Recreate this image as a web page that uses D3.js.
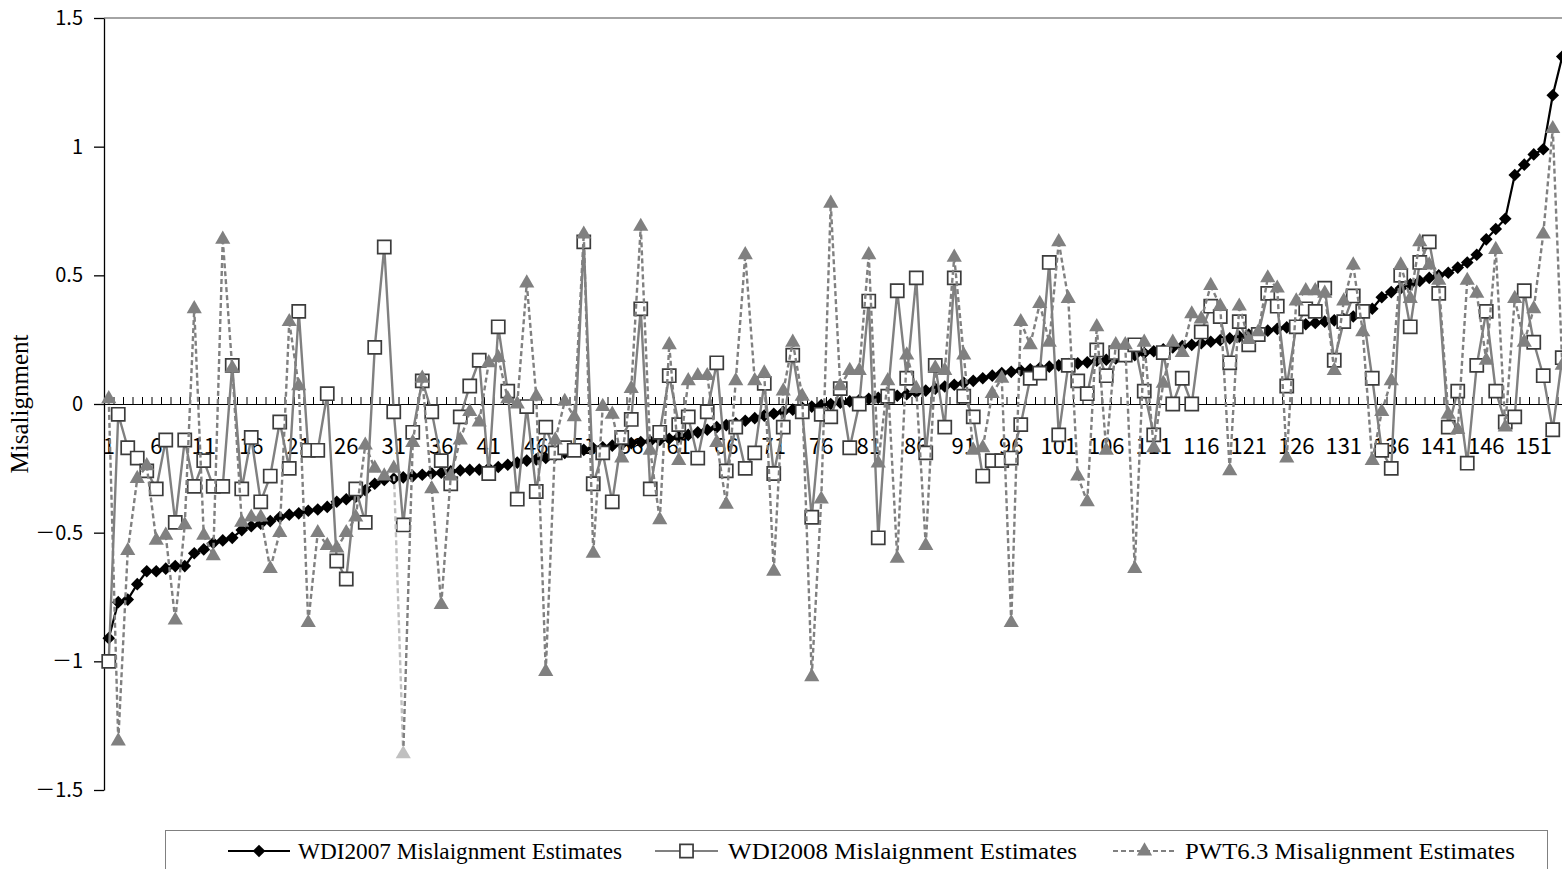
<!DOCTYPE html>
<html>
<head>
<meta charset="utf-8">
<script src="https://cdn.jsdelivr.net/npm/d3@7"></script>
<style>
body { margin: 0; background: #fff; }
svg { display: block; }
</style>
</head>
<body>
<svg id="chart" width="1562" height="869"></svg>
<script>
// categories are the country ranks 1..154 (sorted by the WDI2007 estimate)
var categories = d3.range(1, 155);

var wdi2007 = [
  -0.91,-0.77,-0.76,-0.70,-0.65,-0.65,-0.64,-0.63,-0.63,-0.58,
  -0.565,-0.54,-0.53,-0.52,-0.49,-0.475,-0.465,-0.455,-0.44,-0.43,
  -0.425,-0.415,-0.41,-0.40,-0.38,-0.37,-0.36,-0.335,-0.31,-0.295,
  -0.29,-0.285,-0.28,-0.275,-0.27,-0.267,-0.262,-0.258,-0.256,-0.255,
  -0.25,-0.245,-0.236,-0.228,-0.22,-0.215,-0.21,-0.20,-0.19,-0.18,
  -0.178,-0.172,-0.168,-0.162,-0.156,-0.152,-0.148,-0.145,-0.14,-0.135,
  -0.128,-0.12,-0.11,-0.10,-0.09,-0.082,-0.075,-0.065,-0.055,-0.045,
  -0.038,-0.03,-0.022,-0.015,-0.01,-0.004,0.0,0.005,0.01,0.015,
  0.02,0.024,0.028,0.032,0.038,0.045,0.052,0.06,0.068,0.075,
  0.082,0.09,0.10,0.11,0.12,0.125,0.13,0.135,0.14,0.145,
  0.15,0.155,0.158,0.162,0.168,0.172,0.177,0.182,0.19,0.198,
  0.205,0.212,0.22,0.225,0.23,0.236,0.242,0.248,0.255,0.262,
  0.27,0.278,0.285,0.292,0.298,0.305,0.31,0.315,0.32,0.325,
  0.33,0.34,0.355,0.37,0.415,0.435,0.45,0.465,0.478,0.49,
  0.50,0.51,0.53,0.55,0.58,0.64,0.68,0.72,0.89,0.93,
  0.97,0.99,1.20,1.35
];

var wdi2008 = [
  -1.00,-0.04,-0.17,-0.21,-0.26,-0.33,-0.14,-0.46,-0.14,-0.32,
  -0.22,-0.32,-0.32,0.15,-0.33,-0.13,-0.38,-0.28,-0.07,-0.25,
  0.36,-0.18,-0.18,0.04,-0.61,-0.68,-0.33,-0.46,0.22,0.61,
  -0.03,-0.47,-0.11,0.09,-0.03,-0.22,-0.31,-0.05,0.07,0.17,
  -0.27,0.30,0.05,-0.37,-0.01,-0.34,-0.09,-0.19,-0.17,-0.18,
  0.63,-0.31,-0.19,-0.38,-0.13,-0.06,0.37,-0.33,-0.11,0.11,
  -0.08,-0.05,-0.21,-0.03,0.16,-0.26,-0.09,-0.25,-0.19,0.08,
  -0.27,-0.09,0.19,-0.03,-0.44,-0.04,-0.05,0.06,-0.17,0.00,
  0.40,-0.52,0.03,0.44,0.10,0.49,-0.19,0.15,-0.09,0.49,
  0.03,-0.05,-0.28,-0.22,-0.22,-0.21,-0.08,0.10,0.12,0.55,
  -0.12,0.15,0.09,0.04,0.21,0.11,0.20,0.19,0.23,0.05,
  -0.12,0.20,0.00,0.10,0.00,0.28,0.38,0.34,0.16,0.32,
  0.23,0.27,0.43,0.38,0.07,0.30,0.37,0.36,0.45,0.17,
  0.32,0.42,0.36,0.10,-0.18,-0.25,0.50,0.30,0.55,0.63,
  0.43,-0.09,0.05,-0.23,0.15,0.36,0.05,-0.07,-0.05,0.44,
  0.24,0.11,-0.10,0.18
];

var pwt63 = [
  0.02,-1.31,-0.57,-0.29,-0.24,-0.53,-0.51,-0.84,-0.47,0.37,
  -0.51,-0.59,0.64,0.14,-0.46,-0.44,-0.44,-0.64,-0.50,0.32,
  0.07,-0.85,-0.50,-0.55,-0.56,-0.50,-0.44,-0.16,-0.25,-0.28,
  -0.25,-1.36,-0.15,0.10,-0.33,-0.78,-0.28,-0.14,-0.03,-0.07,
  0.16,0.18,0.02,0.00,0.47,0.03,-1.04,-0.14,0.01,-0.05,
  0.66,-0.58,-0.01,-0.04,-0.21,0.06,0.69,-0.18,-0.45,0.23,
  -0.22,0.09,0.11,0.11,-0.15,-0.39,0.09,0.58,0.09,0.12,
  -0.65,0.05,0.24,0.03,-1.06,-0.37,0.78,0.07,0.13,0.13,
  0.58,-0.23,0.09,-0.60,0.19,0.06,-0.55,0.14,0.13,0.57,
  0.19,-0.18,-0.17,0.04,0.10,-0.85,0.32,0.23,0.39,0.24,
  0.63,0.41,-0.28,-0.38,0.30,-0.18,0.23,0.23,-0.64,0.24,
  -0.17,0.08,0.24,0.20,0.35,0.33,0.46,0.38,-0.26,0.38,
  0.25,0.28,0.49,0.45,-0.21,0.40,0.44,0.44,0.43,0.13,
  0.40,0.54,0.28,-0.22,-0.03,0.09,0.54,0.41,0.63,0.54,
  0.48,-0.04,-0.10,0.48,0.43,0.17,0.60,-0.09,0.41,0.24,
  0.37,0.66,1.07,0.15
];

// the one PWT point drawn in a lighter grey in the original
var highlightIndex = 31;

var yTicks = [-1.5, -1, -0.5, 0, 0.5, 1, 1.5];
var xLabels = [1,6,11,16,21,26,31,36,41,46,51,56,61,66,71,76,81,86,91,96,101,106,111,116,121,126,131,136,141,146,151];
var seriesNames = ["WDI2007 Mislaignment Estimates", "WDI2008 Mislaignment Estimates", "PWT6.3 Misalignment Estimates"];

var svg = d3.select("#chart");

var x = d3.scaleBand().domain(categories).range([104, 1567]).paddingInner(0).paddingOuter(0);
var xb = d3.scaleLinear().domain([0, categories.length]).range([104, 1567]);
var y = d3.scaleLinear().domain([-1.5, 1.5]).range([790, 18]);

function cx(i) { return x(categories[i]) + x.bandwidth() / 2; }

// top border of plot area
svg.append("line")
  .attr("x1", 104).attr("x2", 1567)
  .attr("y1", y(1.5)).attr("y2", y(1.5))
  .attr("stroke", "#868686").attr("stroke-width", 1.5);

// y axis
var yAxis = svg.append("g")
  .attr("transform", "translate(104,0)")
  .call(d3.axisLeft(y).tickValues(yTicks).tickSize(10).tickSizeOuter(0).tickPadding(11)
    .tickFormat(function(d) { return d < 0 ? "\uFF0D" + Math.abs(d) : String(d); }));
yAxis.select(".domain").attr("stroke", "#000").attr("stroke-width", 1.3);
yAxis.selectAll(".tick line").attr("stroke", "#000").attr("stroke-width", 1.3);
yAxis.selectAll("text")
  .attr("font-family", "'Noto Sans CJK JP', 'Liberation Sans', sans-serif")
  .attr("font-size", 20).attr("fill", "#000");

// x axis: tick marks at category boundaries on the zero line
var xTicks = svg.append("g")
  .attr("transform", "translate(0," + y(0) + ")")
  .call(d3.axisTop(xb).tickValues(d3.range(0, categories.length + 1)).tickSize(7).tickSizeOuter(0).tickFormat(""));
xTicks.select(".domain").attr("stroke", "#000").attr("stroke-width", 1.2);
xTicks.selectAll(".tick line").attr("stroke", "#000").attr("stroke-width", 1);

// x labels every 5th category
var xAxis = svg.append("g")
  .attr("transform", "translate(0," + y(0) + ")")
  .call(d3.axisBottom(x).tickValues(xLabels).tickSize(0).tickPadding(34));
xAxis.select(".domain").remove();
xAxis.selectAll("text")
  .attr("font-family", "'Noto Sans CJK JP', 'Liberation Sans', sans-serif")
  .attr("font-size", 22).attr("fill", "#000");

// y axis title
svg.append("text")
  .attr("transform", "translate(28," + y(0) + ") rotate(-90)")
  .attr("text-anchor", "middle")
  .attr("font-family", "'Liberation Serif', 'Times New Roman', serif")
  .attr("font-size", 25)
  .text("Misalignment");

var line = d3.line().x(function(d, i) { return cx(i); }).y(function(d) { return y(d); });

var diamond = d3.symbol().type(d3.symbolSquare).size(80);
var square = d3.symbol().type(d3.symbolSquare).size(172);
var triangle = d3.symbol().type(d3.symbolTriangle).size(100);

// WDI2007 - black line with diamonds
svg.append("path").datum(wdi2007)
  .attr("d", line).attr("fill", "none").attr("stroke", "#000").attr("stroke-width", 2.2);
svg.append("g").selectAll("path").data(wdi2007).enter().append("path")
  .attr("d", diamond)
  .attr("transform", function(d, i) { return "translate(" + cx(i) + "," + y(d) + ") rotate(45)"; })
  .attr("fill", "#000");

// WDI2008 - grey line with open squares
svg.append("path").datum(wdi2008)
  .attr("d", line).attr("fill", "none").attr("stroke", "#808080").attr("stroke-width", 2.4);
svg.append("g").selectAll("path").data(wdi2008).enter().append("path")
  .attr("d", square)
  .attr("transform", function(d, i) { return "translate(" + cx(i) + "," + y(d) + ")"; })
  .attr("fill", "#fff").attr("stroke", "#3c3c3c").attr("stroke-width", 1.7);

// PWT6.3 - dashed grey line with triangles
var segs = d3.range(pwt63.length - 1);
svg.append("g").selectAll("line").data(segs).enter().append("line")
  .attr("x1", function(i) { return cx(i); })
  .attr("y1", function(i) { return y(pwt63[i]); })
  .attr("x2", function(i) { return cx(i + 1); })
  .attr("y2", function(i) { return y(pwt63[i + 1]); })
  .attr("stroke", function(i) { return i + 1 === highlightIndex ? "#c0c0c0" : "#808080"; })
  .attr("stroke-width", 2.4)
  .attr("stroke-dasharray", "5,3");
svg.append("g").selectAll("path").data(pwt63).enter().append("path")
  .attr("d", triangle)
  .attr("transform", function(d, i) { return "translate(" + cx(i) + "," + y(d) + ")"; })
  .attr("fill", function(d, i) { return i === highlightIndex ? "#c0c0c0" : "#808080"; });

// legend
var legend = svg.append("g");
legend.append("rect")
  .attr("x", 165.5).attr("y", 830.5).attr("width", 1382).attr("height", 60)
  .attr("fill", "#fff").attr("stroke", "#808080").attr("stroke-width", 1);

var legendItems = [
  { x1: 228, x2: 290, tx: 298, w: 324, stroke: "#000", dash: null, marker: "diamond" },
  { x1: 655, x2: 718, tx: 728, w: 349, stroke: "#808080", dash: null, marker: "square" },
  { x1: 1113, x2: 1176, tx: 1185, w: 330, stroke: "#808080", dash: "5,3", marker: "triangle" }
];
var ly = 851;
legendItems.forEach(function(it, k) {
  legend.append("line")
    .attr("x1", it.x1).attr("x2", it.x2).attr("y1", ly).attr("y2", ly)
    .attr("stroke", it.stroke).attr("stroke-width", 2.2)
    .attr("stroke-dasharray", it.dash);
  var mx = (it.x1 + it.x2) / 2;
  if (it.marker === "diamond") {
    legend.append("path").attr("d", diamond)
      .attr("transform", "translate(" + mx + "," + ly + ") rotate(45)").attr("fill", "#000");
  } else if (it.marker === "square") {
    legend.append("path").attr("d", square)
      .attr("transform", "translate(" + mx + "," + ly + ")")
      .attr("fill", "#fff").attr("stroke", "#3c3c3c").attr("stroke-width", 1.7);
  } else {
    legend.append("path").attr("d", triangle)
      .attr("transform", "translate(" + mx + "," + ly + ")").attr("fill", "#808080");
  }
  legend.append("text")
    .attr("x", it.tx).attr("y", ly).attr("dy", "0.35em")
    .attr("font-family", "'Liberation Serif', 'Times New Roman', serif")
    .attr("font-size", 23)
    .attr("textLength", it.w).attr("lengthAdjust", "spacingAndGlyphs")
    .text(seriesNames[k]);
});
</script>
</body>
</html>
